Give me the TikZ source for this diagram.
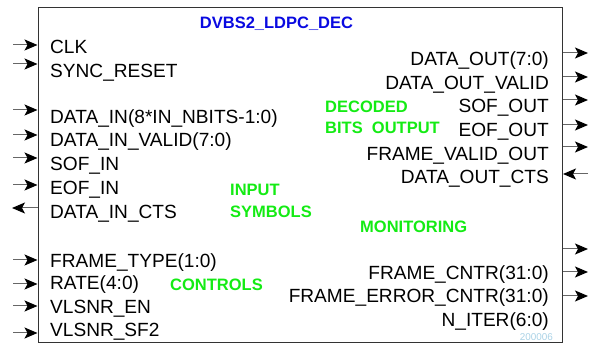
\documentclass[tikz,border=0pt]{standalone}
\usepackage{fontspec}
\setmainfont{Liberation Sans}
\usetikzlibrary{arrows.meta}
\definecolor{titleblue}{RGB}{10,10,225}
\definecolor{grp}{RGB}{20,235,20}
\definecolor{refblue}{RGB}{170,210,230}
\tikzset{
  portlbl/.style={inner sep=0pt, text height=13.5pt, text depth=0pt, font=\fontsize{19.1}{22}\selectfont},
  grplbl/.style={inner sep=0pt, anchor=west, text height=12pt, text depth=0pt, text=grp, font=\fontsize{16.5}{20}\selectfont\bfseries},
  portarrow/.style={draw=black!60, line width=1pt, arrows={-Stealth[length=13pt, width=11pt, inset=3pt, color=black]}},
  blockbox/.style={draw=black!80, line width=1.1pt}
}
\begin{document}
\begin{tikzpicture}[x=1pt,y=-1pt]
\useasboundingbox (0,0) rectangle (589,344);
\node[blockbox, minimum width=524pt, minimum height=335pt, inner sep=0pt, anchor=north west] (box) at (38,7) {};
\node[inner sep=0pt, text=titleblue, font=\fontsize{16.5}{20}\selectfont\bfseries, text height=12pt, text depth=0pt] (title) at (276.5,23) {DVBS2\_LDPC\_DEC};

% left inputs
\foreach \nm/\lbl/\ty/\ay in {clk/CLK/47/45, srst/SYNC\_RESET/71/64, din/DATA\_IN(8*IN\_NBITS-1:0)/117/110, dinv/DATA\_IN\_VALID(7:0)/140/135, sofin/SOF\_IN/164/158, eofin/EOF\_IN/188/185, ftype/FRAME\_TYPE(1:0)/261/260, rate/RATE(4:0)/283/284, vlen/VLSNR\_EN/307/306, vlsf/VLSNR\_SF2/330/333}{
  \node[portlbl, anchor=west] (\nm) at (50,\ty) {\lbl};
  \coordinate (\nm src) at (13,\ay);
  \coordinate (\nm dst) at (37.5,\ay);
  \draw[portarrow] (\nm src) -- (\nm dst);
}
\node[portlbl, anchor=west] (dincts) at (50,212) {DATA\_IN\_CTS};
\coordinate (dinctsA) at (38,208);
\coordinate (dinctsB) at (12,208);
\draw[portarrow] (dinctsA) -- (dinctsB);

% right outputs
\foreach \nm/\lbl/\ty/\ay in {dout/DATA\_OUT(7:0)/59/53, doutv/DATA\_OUT\_VALID/83/77, sofout/SOF\_OUT/106/100, eofout/EOF\_OUT/130/125, fvout/FRAME\_VALID\_OUT/154/147, fcntr/FRAME\_CNTR(31:0)/273/272, fecntr/FRAME\_ERROR\_CNTR(31:0)/296/296}{
  \node[portlbl, anchor=east] (\nm) at (549,\ty) {\lbl};
  \coordinate (\nm src) at (563,\ay);
  \coordinate (\nm dst) at (588,\ay);
  \draw[portarrow] (\nm src) -- (\nm dst);
}
\node[portlbl, anchor=east] (doutcts) at (549,177) {DATA\_OUT\_CTS};
\coordinate (doutctsA) at (588,174);
\coordinate (doutctsB) at (563,174);
\draw[portarrow] (doutctsA) -- (doutctsB);
\coordinate (spareA) at (563,249);
\coordinate (spareB) at (588,249);
\draw[portarrow] (spareA) -- (spareB);
\node[portlbl, anchor=east] (niter) at (549,320) {N\_ITER(6:0)};

% group labels
\node[grplbl] (g1) at (325,107) {DECODED};
\node[grplbl] (g2) at (325,128) {BITS\ \ OUTPUT};
\node[grplbl] (g3) at (230,190) {INPUT};
\node[grplbl] (g4) at (230,212) {SYMBOLS};
\node[grplbl] (g5) at (360,227) {MONITORING};
\node[grplbl] (g6) at (170,285) {CONTROLS};
\node[inner sep=0pt, anchor=east, text=refblue, font=\fontsize{9.9}{11}\selectfont] (ref) at (553,337) {200006};
\end{tikzpicture}
\end{document}
